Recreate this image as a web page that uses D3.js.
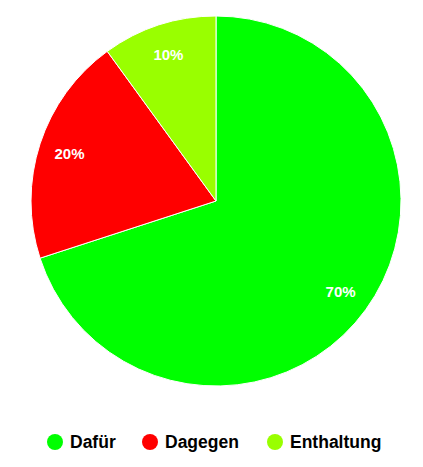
<!DOCTYPE html>
<html>
<head>
<meta charset="utf-8">
<script src="https://cdn.jsdelivr.net/npm/d3@7"></script>
<style>
  body { margin: 0; background: #fff; }
  text { font-family: "Liberation Sans", Arial, sans-serif; font-weight: bold; }
</style>
</head>
<body>
<div id="target"></div>
<script>
const labels = ["Dafür", "Dagegen", "Enthaltung"];
const values = [70, 20, 10];
const colors = ["#00ff00", "#ff0000", "#99ff00"];

const width = 423,
  height = 467,
  radius = 185;

const color = d3.scaleOrdinal().domain(labels).range(colors);

const pie = d3.pie().sort(null).value((d, i) => values[i]);
const arc = d3.arc().innerRadius(0).outerRadius(radius);
const labelArc = d3.arc().innerRadius(154).outerRadius(154);

const svg = d3.select("#target").append("svg")
  .attr("width", width)
  .attr("height", height);

const g = svg.append("g")
  .attr("transform", "translate(216,201)");

const total = d3.sum(values);

g.selectAll("path")
  .data(pie(labels))
  .enter()
  .append("path")
  .attr("d", arc)
  .attr("fill", (d) => color(d.data))
  .attr("stroke", "#fff")
  .attr("stroke-width", 1);

g.selectAll(".label")
  .data(pie(labels))
  .enter()
  .append("text")
  .attr("class", "label")
  .attr("transform", (d) => `translate(${labelArc.centroid(d)})`)
  .attr("text-anchor", "middle")
  .attr("dy", "0.35em")
  .attr("fill", "#fff")
  .style("font-size", "15px")
  .text((d) => Math.round(d.value / total * 100) + "%");

// legend
const legendPos = { "Dafür": 55, "Dagegen": 150, "Enthaltung": 275 };

const item = svg.selectAll(".legend")
  .data(labels)
  .enter()
  .append("g")
  .attr("class", "legend")
  .attr("transform", (d) => `translate(${legendPos[d]},442)`);

item.append("circle")
  .attr("r", 8)
  .attr("fill", (d) => color(d));

item.append("text")
  .attr("x", 15)
  .attr("dy", "0.35em")
  .style("font-size", "17.5px")
  .attr("fill", "#000")
  .text((d) => d);
</script>
</body>
</html>
